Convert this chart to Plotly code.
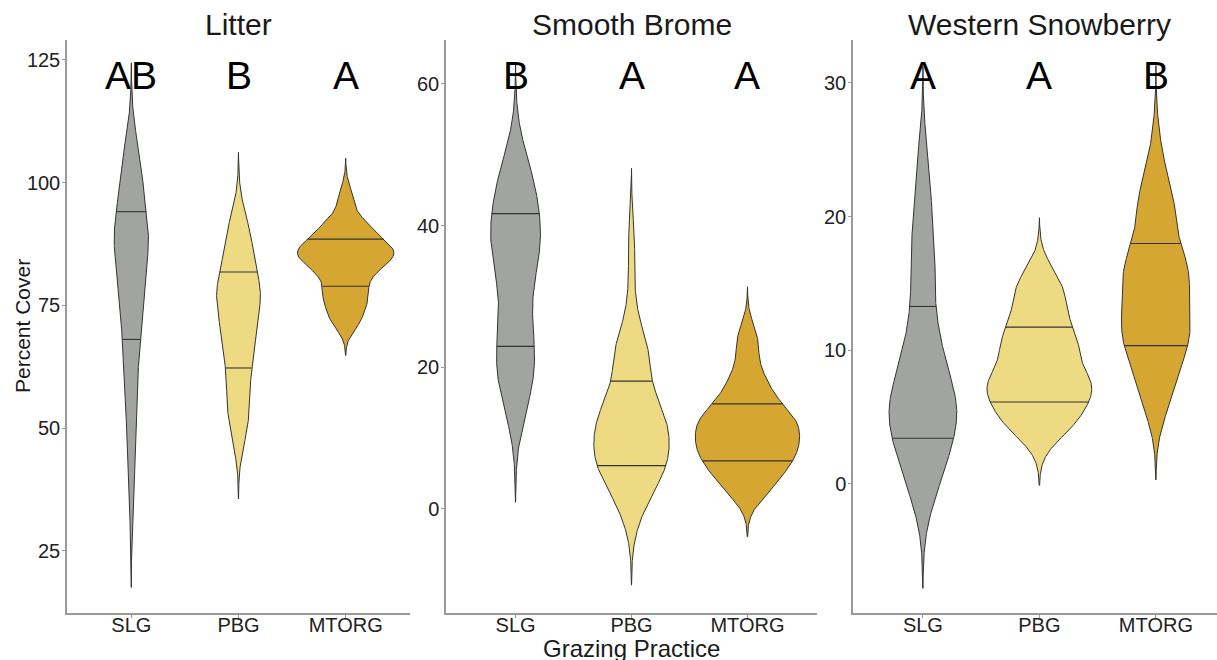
import numpy as np
import plotly.graph_objects as go

# ---------------- data ----------------
categories = ["SLG", "PBG", "MTORG"]
panel_titles = ["Litter", "Smooth Brome", "Western Snowberry"]
letters_litter = ["AB", "B", "A"]
letters_brome = ["B", "A", "A"]
letters_snowberry = ["A", "A", "B"]

litter_slg = [36.7, 43.2, 52.7, 53.1, 59.1, 62.6, 65.1, 69.2, 73.8, 74.9, 75.8, 76.8, 77.6, 79.4, 85.8,
              86.9, 88.0, 88.9, 89.1, 89.1, 89.1, 89.1, 89.1, 96.6, 97.6, 98.8, 100.9, 105.0, 105.2, 105.3]
litter_pbg = [49.7, 49.7, 50.6, 55.5, 57.1, 58.1, 59.2, 62.8, 66.8, 66.8, 68.1, 68.3, 69.0, 70.2, 73.2,
              77.6, 77.6, 77.6, 77.6, 77.6, 77.6, 77.6, 77.6, 84.7, 85.1, 85.6, 86.5, 89.1, 92.0, 92.1]
litter_mtorg = [72.0, 72.0, 72.2, 76.1, 76.5, 76.5, 76.5, 79.0, 80.8, 81.2, 82.0, 83.0, 83.6, 84.1, 84.9,
                85.3, 86.0, 86.5, 86.5, 86.5, 86.5, 86.5, 86.5, 89.7, 90.1, 90.6, 91.1, 91.3, 95.0, 97.8]

brome_slg = [15.6, 15.6, 15.6, 18.3, 19.5, 20.7, 21.6, 22.5, 23.6, 24.8, 26.1, 29.1, 31.7, 32.3, 34.3,
             36.1, 37.1, 37.1, 37.6, 37.8, 38.7, 39.8, 41.1, 42.4, 43.7, 45.0, 46.1, 47.2, 48.2, 48.3]
brome_pbg = [0.0, 0.0, 2.8, 5.0, 5.5, 5.5, 5.6, 5.6, 6.4, 7.9, 8.3, 8.7, 9.4, 10.3, 11.0,
             12.1, 12.6, 13.0, 13.4, 13.8, 14.3, 15.9, 16.5, 21.0, 22.2, 22.2, 22.3, 22.3, 29.1, 37.3]
brome_mtorg = [2.7, 2.7, 2.8, 4.9, 5.7, 6.2, 6.3, 6.3, 7.8, 8.6, 8.7, 8.7, 9.1, 9.8, 10.1,
               11.1, 11.4, 12.3, 12.7, 13.1, 13.1, 13.2, 13.2, 15.9, 16.3, 16.9, 18.5, 20.3, 23.3, 24.7]

snow_slg = [0.1, 0.1, 0.1, 1.3, 2.2, 2.9, 3.5, 3.7, 4.8, 5.5, 5.7, 5.7, 5.8, 5.9, 6.0,
            6.0, 6.9, 8.0, 9.0, 10.3, 11.2, 11.2, 11.9, 15.7, 16.3, 16.9, 18.0, 20.0, 23.3, 23.3]
snow_pbg = [4.2, 4.2, 4.2, 4.7, 5.1, 5.5, 5.9, 6.3, 7.0, 7.3, 7.4, 7.5, 7.6, 7.6, 7.7,
            7.9, 9.1, 10.1, 10.5, 10.7, 10.7, 10.7, 10.7, 12.3, 12.8, 13.4, 14.0, 14.6, 15.3, 15.6]
snow_mtorg = [6.4, 6.4, 6.4, 8.6, 9.4, 9.9, 10.1, 10.1, 11.3, 11.6, 12.0, 12.1, 12.3, 12.8, 13.9,
              14.1, 15.6, 15.9, 16.1, 16.3, 16.3, 16.3, 16.4, 18.6, 19.7, 20.6, 21.2, 21.6, 22.2, 25.2]

ticks_litter = [25, 50, 75, 100, 125]
ticks_brome = [0, 20, 40, 60]
ticks_snowberry = [0, 10, 20, 30]

# ---------------- helpers ----------------
def bw_nrd0(x):
    x = np.asarray(x, float)
    n = len(x)
    sd = x.std(ddof=1)
    q75, q25 = np.percentile(x, [75, 25])
    s = min(sd, (q75 - q25) / 1.34)
    if s <= 0:
        s = sd
    return 0.9 * s * n ** -0.2

def kde(x):
    x = np.asarray(x, float)
    n = len(x)
    bw = bw_nrd0(x)
    y = np.linspace(x.min() - 3 * bw, x.max() + 3 * bw, 512)
    d = np.exp(-0.5 * ((y[:, None] - x[None, :]) / bw) ** 2).sum(1) / (n * bw * np.sqrt(2 * np.pi))
    return y, d

# ---------------- figure ----------------
W, H = 1217, 660
fills = {"SLG": "#A2A4A1", "PBG": "#EDDA82", "MTORG": "#D6A633"}
outline = "#333333"
axis_col = "#9a9a9a"
FONT = "Liberation Sans, Arial, sans-serif"

panels = [
    dict(title=panel_titles[0], data=[litter_slg, litter_pbg, litter_mtorg], letters=letters_litter,
         dom=(67, 410), full=(67, 410), xr=[0.4, 3.6], yr=[12.37, 129.07], tv=ticks_litter),
    dict(title=panel_titles[1], data=[brome_slg, brome_pbg, brome_mtorg], letters=letters_brome,
         dom=(446, 817), full=(446, 817), xr=[0.4, 3.6], yr=[-14.7, 66.2], tv=ticks_brome),
    dict(title=panel_titles[2], data=[snow_slg, snow_pbg, snow_mtorg], letters=letters_snowberry,
         dom=(853, 1217), full=(853, 1226), xr=[0.4, 0.4 + 364 / 116.5], yr=[-9.65, 33.2], tv=ticks_snowberry),
]

fig = go.Figure()
lay = {}
annotations = []
for pi, p in enumerate(panels):
    ax = "" if pi == 0 else str(pi + 1)
    dens = [kde(v) for v in p["data"]]
    mx = max(d.max() for _, d in dens)
    for ci, c in enumerate(categories):
        y, d = dens[ci]
        hw = 0.45 * d / mx
        pos = ci + 1
        fig.add_trace(go.Scatter(
            x=np.concatenate([pos - hw, (pos + hw)[::-1]]), y=np.concatenate([y, y[::-1]]),
            fill="toself", fillcolor=fills[c], line=dict(color=outline, width=1),
            mode="lines", xaxis="x" + ax, yaxis="y" + ax, showlegend=False, hoverinfo="skip"))
        cd = np.cumsum(d)
        cd = cd / cd[-1]
        for q in np.interp([0.25, 0.75], cd, y):
            w = 0.45 * np.interp(q, y, d) / mx
            fig.add_trace(go.Scatter(
                x=[pos - w, pos + w], y=[q, q], mode="lines", line=dict(color=outline, width=1.1),
                xaxis="x" + ax, yaxis="y" + ax, showlegend=False, hoverinfo="skip"))
        annotations.append(dict(text=p["letters"][ci], xref="x" + ax, yref="paper", x=pos, y=1 - 75.5 / H,
                                xanchor="center", yanchor="middle", showarrow=False,
                                font=dict(size=39, color="#000000", family=FONT)))
    annotations.append(dict(text=p["title"], xref="paper", yref="paper",
                            x=(p["full"][0] + p["full"][1]) / 2 / W, y=1 - 25 / H,
                            xanchor="center", yanchor="middle", showarrow=False,
                            font=dict(size=30, color="#1a1a1a", family=FONT)))
    lay["xaxis" + ax] = dict(domain=[p["dom"][0] / W, p["dom"][1] / W], range=p["xr"], anchor="y" + ax,
                             tickvals=[1, 2, 3], ticktext=categories,
                             showline=True, linecolor=axis_col, linewidth=1.5, ticks="outside", ticklen=3,
                             tickcolor=axis_col, showgrid=False, zeroline=False, ticklabelstandoff=-10,
                             tickfont=dict(size=20, color="#222222", family=FONT), fixedrange=True)
    lay["yaxis" + ax] = dict(domain=[1 - 613 / H, 1 - 40 / H], range=p["yr"], anchor="x" + ax, tickvals=p["tv"],
                             showline=True, linecolor=axis_col, linewidth=1.5, ticks="outside", ticklen=3,
                             tickcolor=axis_col, showgrid=False, zeroline=False, ticklabelstandoff=-2,
                             tickfont=dict(size=20, color="#222222", family=FONT), fixedrange=True)

annotations.append(dict(text="Percent Cover", xref="paper", yref="paper", x=22 / W, y=1 - 326 / H,
                        textangle=-90, xanchor="center", yanchor="middle", showarrow=False,
                        font=dict(size=21, color="#1a1a1a", family=FONT)))
annotations.append(dict(text="Grazing Practice", xref="paper", yref="paper", x=631.5 / W, y=1 - 648.5 / H,
                        xanchor="center", yanchor="middle", showarrow=False,
                        font=dict(size=24, color="#1a1a1a", family=FONT)))

fig.update_layout(width=W, height=H, margin=dict(l=0, r=0, t=0, b=0),
                  plot_bgcolor="white", paper_bgcolor="white",
                  font=dict(family=FONT), annotations=annotations, **lay)
fig.write_html("out.html")
